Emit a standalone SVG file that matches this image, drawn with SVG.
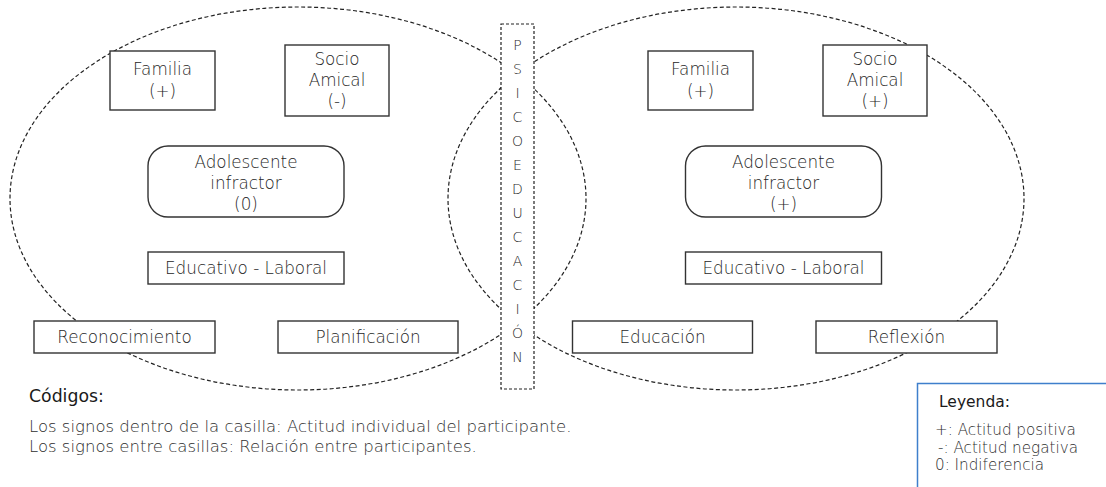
<svg xmlns="http://www.w3.org/2000/svg" width="1106" height="487" viewBox="0 0 1106 487">
<style>
.bg{fill:#ffffff}
.ell{fill:none;stroke:#222;stroke-width:1.2;stroke-dasharray:4 2.5}
.psi{fill:#ffffff;stroke:#222;stroke-width:1.2;stroke-dasharray:3 2}
.box{fill:#ffffff;stroke:#333;stroke-width:1.4}
.t{font-family:"DejaVu Sans","Liberation Sans",sans-serif;font-weight:200;font-size:16.8px;fill:#262626;text-anchor:middle}
.l{font-family:"DejaVu Sans","Liberation Sans",sans-serif;font-weight:200;font-size:14px;fill:#262626;text-anchor:middle}
.h{font-family:"DejaVu Sans","Liberation Sans",sans-serif;font-weight:400;font-size:17.3px;fill:#1a1a1a}
.b{font-family:"DejaVu Sans","Liberation Sans",sans-serif;font-weight:200;font-size:16.5px;fill:#2e2e2e}
.lh{font-family:"DejaVu Sans","Liberation Sans",sans-serif;font-weight:400;font-size:15.5px;fill:#1a1a1a}
.lb{font-family:"DejaVu Sans","Liberation Sans",sans-serif;font-weight:200;font-size:15.2px;fill:#2e2e2e}
.leg{fill:#ffffff;stroke:#3f7fcc;stroke-width:1.5}
</style>
<rect class="bg" x="0" y="0" width="1106" height="487"/>
<g id="connectors">
<ellipse id="circle-left" class="ell" cx="298" cy="198.5" rx="288" ry="191.5"/>
<ellipse id="circle-right" class="ell" cx="736" cy="198.5" rx="288" ry="191.5"/>
</g>
<g id="psicoeducacion">
<rect class="psi" x="501" y="24" width="33" height="365"/>
<text class="l" x="517.5" y="50">P</text>
<text class="l" x="517.5" y="74">S</text>
<text class="l" x="517.5" y="98">I</text>
<text class="l" x="517.5" y="122">C</text>
<text class="l" x="517.5" y="146">O</text>
<text class="l" x="517.5" y="170">E</text>
<text class="l" x="517.5" y="194">D</text>
<text class="l" x="517.5" y="218">U</text>
<text class="l" x="517.5" y="242">C</text>
<text class="l" x="517.5" y="266">A</text>
<text class="l" x="517.5" y="290">C</text>
<text class="l" x="517.5" y="314">I</text>
<text class="l" x="517.5" y="338">Ó</text>
<text class="l" x="517.5" y="362">N</text>
</g>
<g id="familia-left">
<rect class="box" x="110" y="51" width="105" height="59"/>
<text class="t" x="162.5" y="75">Familia</text>
<text class="t" x="162.5" y="97">(+)</text>
</g>
<g id="socio-left">
<rect class="box" x="285" y="45" width="104" height="71"/>
<text class="t" x="337" y="65">Socio</text>
<text class="t" x="337" y="86">Amical</text>
<text class="t" x="337" y="107">(-)</text>
</g>
<g id="adolescente-left">
<rect class="box" x="148" y="146" width="196" height="71" rx="20" ry="20"/>
<text class="t" x="246" y="168">Adolescente</text>
<text class="t" x="246" y="189">infractor</text>
<text class="t" x="246" y="210">(0)</text>
</g>
<g id="educativo-left">
<rect class="box" x="148" y="252" width="196" height="32"/>
<text class="t" x="246" y="274">Educativo - Laboral</text>
</g>
<g id="reconocimiento">
<rect class="box" x="34" y="321" width="181" height="32"/>
<text class="t" x="124.5" y="343">Reconocimiento</text>
</g>
<g id="planificacion">
<rect class="box" x="278" y="321" width="180" height="32"/>
<text class="t" x="368" y="343">Planificación</text>
</g>
<g id="familia-right">
<rect class="box" x="648" y="51" width="105" height="59"/>
<text class="t" x="700.5" y="75">Familia</text>
<text class="t" x="700.5" y="97">(+)</text>
</g>
<g id="socio-right">
<rect class="box" x="823" y="45" width="104" height="71"/>
<text class="t" x="875" y="65">Socio</text>
<text class="t" x="875" y="86">Amical</text>
<text class="t" x="875" y="107">(+)</text>
</g>
<g id="adolescente-right">
<rect class="box" x="685.5" y="146" width="196" height="71" rx="20" ry="20"/>
<text class="t" x="783.5" y="168">Adolescente</text>
<text class="t" x="783.5" y="189">infractor</text>
<text class="t" x="783.5" y="210">(+)</text>
</g>
<g id="educativo-right">
<rect class="box" x="685.5" y="252" width="196" height="32"/>
<text class="t" x="783.5" y="274">Educativo - Laboral</text>
</g>
<g id="educacion">
<rect class="box" x="572.5" y="321" width="180" height="32"/>
<text class="t" x="662.5" y="343">Educación</text>
</g>
<g id="reflexion">
<rect class="box" x="816" y="321" width="181" height="32"/>
<text class="t" x="906.5" y="343">Reflexión</text>
</g>
<g id="codigos">
<text class="h" x="29" y="402">Códigos:</text>
<text class="b" x="29" y="432">Los signos dentro de la casilla: Actitud individual del participante.</text>
<text class="b" x="29" y="452">Los signos entre casillas: Relación entre participantes.</text>
</g>
<g id="leyenda">
<path class="leg" d="M917.5 495 V383.5 H1110 V495 Z"/>
<text class="lh" x="939" y="407">Leyenda:</text>
<text class="lb" x="935" y="435">+: Actitud positiva</text>
<text class="lb" x="938" y="452.5">-: Actitud negativa</text>
<text class="lb" x="935" y="470">0: Indiferencia</text>
</g>
</svg>
